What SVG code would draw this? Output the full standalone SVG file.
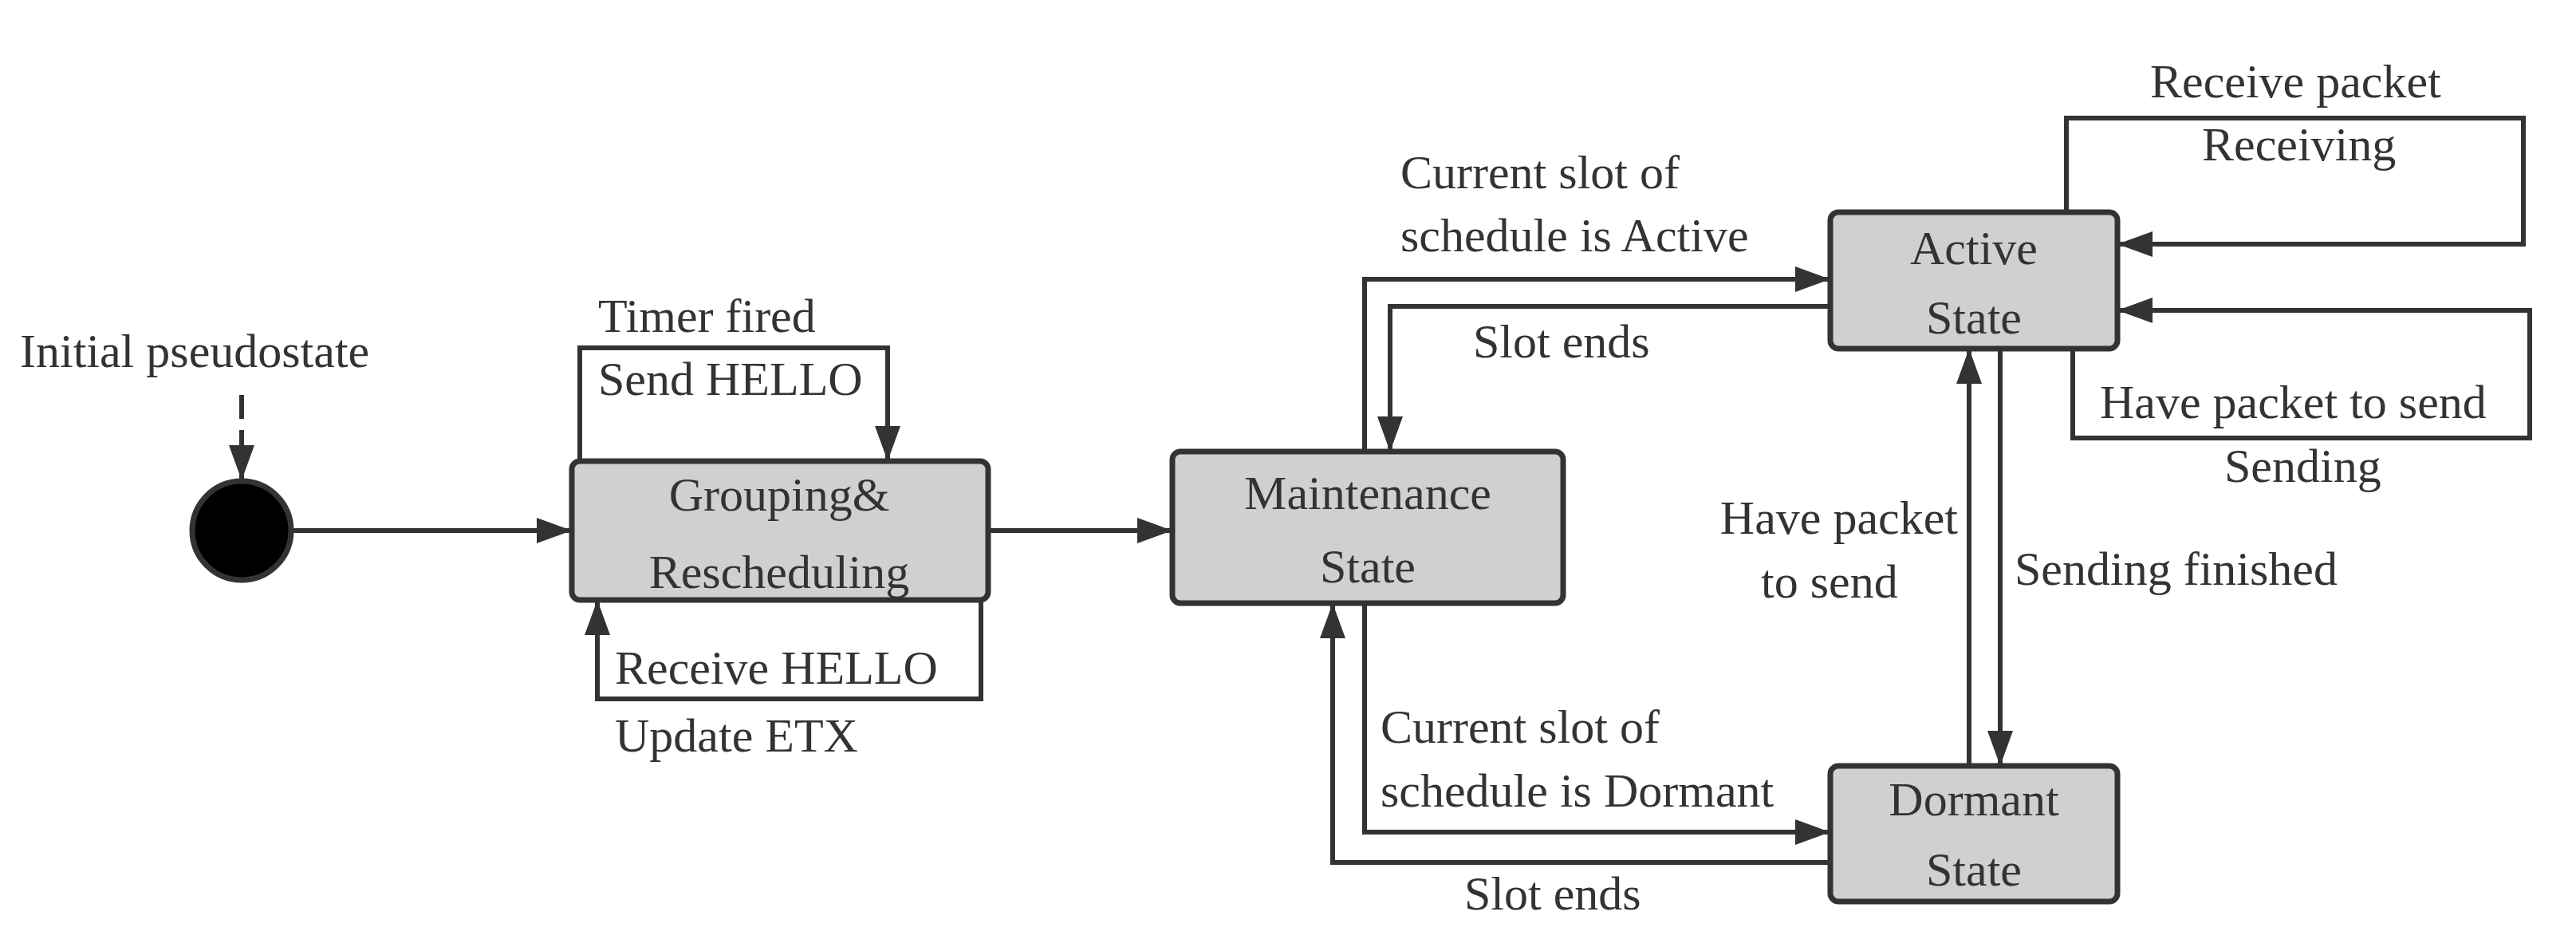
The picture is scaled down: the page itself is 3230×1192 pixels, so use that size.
<svg xmlns="http://www.w3.org/2000/svg" width="3230" height="1192" viewBox="0 0 3230 1192">
<style>
text{font-family:"Liberation Serif","Times New Roman",serif;font-size:60px;fill:#333}
.n{fill:#d0d0d0;stroke:#333;stroke-width:7}
.c{fill:none;stroke:#333;stroke-width:6}
.m{text-anchor:middle}
</style>
<defs>
<marker id="a" markerUnits="userSpaceOnUse" markerWidth="44" markerHeight="32" refX="42" refY="16" orient="auto"><path d="M0,0 L44,16 L0,32 Z" fill="#333"/></marker>
</defs>
<rect width="3230" height="1192" fill="#fff"/>
<g id="init">
<ellipse cx="303" cy="665" rx="62" ry="62" fill="#000" stroke="#333" stroke-width="7"/>
<text x="25" y="460">Initial pseudostate</text>
</g>
<g id="grouping"><rect class="n" x="717" y="578" width="522" height="174" rx="10"/>
<text class="m" x="977" y="640">Grouping&amp;</text><text class="m" x="977" y="737">Rescheduling</text></g>
<g id="maintenance"><rect class="n" x="1470" y="566" width="490" height="190" rx="10"/>
<text class="m" x="1715" y="638">Maintenance</text><text class="m" x="1715" y="730">State</text></g>
<g id="active"><rect class="n" x="2295" y="266" width="360" height="171" rx="10"/>
<text class="m" x="2475" y="331">Active</text><text class="m" x="2475" y="418">State</text></g>
<g id="dormant"><rect class="n" x="2295" y="960" width="360" height="170" rx="10"/>
<text class="m" x="2475" y="1022">Dormant</text><text class="m" x="2475" y="1110">State</text></g>
<g id="connectors">
<path class="c" d="M303,495 V555" stroke-dasharray="30,14"/>
<path class="c" d="M303,555 V600" marker-end="url(#a)"/>
<path class="c" d="M366,665 H715" marker-end="url(#a)"/>
<path class="c" d="M727,578 V436 H1113 V576" marker-end="url(#a)"/>
<path class="c" d="M1230,752 V876 H749 V754" marker-end="url(#a)"/>
<path class="c" d="M1239,665 H1468" marker-end="url(#a)"/>
<path class="c" d="M1711,566 V350 H2293" marker-end="url(#a)"/>
<path class="c" d="M2295,384 H1743 V564" marker-end="url(#a)"/>
<path class="c" d="M1711,756 V1043 H2293" marker-end="url(#a)"/>
<path class="c" d="M2295,1081 H1671 V758" marker-end="url(#a)"/>
<path class="c" d="M2469,960 V439" marker-end="url(#a)"/>
<path class="c" d="M2508,437 V958" marker-end="url(#a)"/>
<path class="c" d="M2591,266 V148 H3164 V306 H2657" marker-end="url(#a)"/>
<path class="c" d="M2599,437 V549 H3172 V389 H2657" marker-end="url(#a)"/>
<text x="750" y="416">Timer fired</text>
<text x="750" y="495">Send HELLO</text>
<text x="771" y="857">Receive HELLO</text>
<text x="771" y="942">Update ETX</text>
<text x="1756" y="236">Current slot of</text>
<text x="1756" y="315">schedule is Active</text>
<text x="1847" y="448">Slot ends</text>
<text x="1731" y="931">Current slot of</text>
<text x="1731" y="1011">schedule is Dormant</text>
<text x="1836" y="1140">Slot ends</text>
<text x="2455" y="669" text-anchor="end">Have packet</text>
<text x="2208" y="749">to send</text>
<text x="2526" y="733">Sending finished</text>
<text x="2696" y="122">Receive packet</text>
<text x="2761" y="201">Receiving</text>
<text x="2633" y="524">Have packet to send</text>
<text x="2789" y="604">Sending</text>
</g>
</svg>
